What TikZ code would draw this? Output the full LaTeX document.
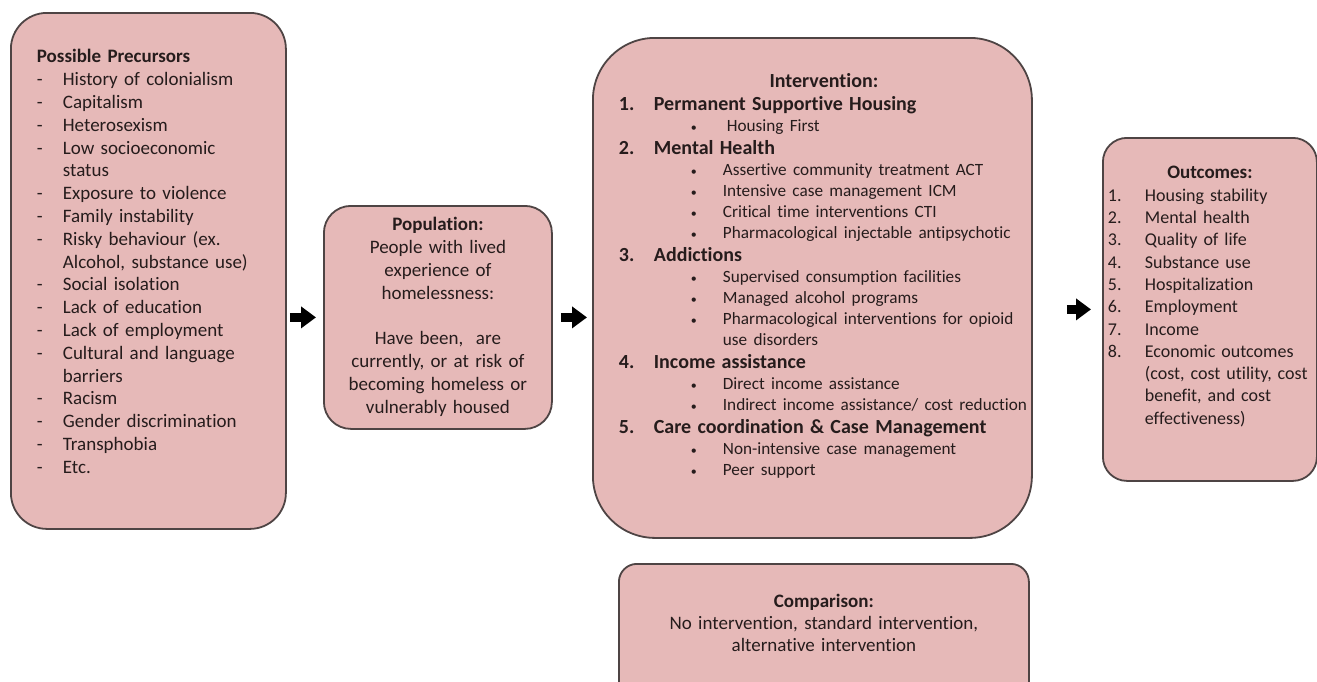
\documentclass[tikz,border=0pt]{standalone}
\usepackage{fontspec}
\setmainfont{Carlito}[Ligatures=NoCommon]
\usetikzlibrary{arrows.meta}

\definecolor{boxfill}{RGB}{230,185,184}
\definecolor{boxline}{RGB}{78,68,68}
\definecolor{ink}{RGB}{38,28,28}

% numbered heading and bullet line inside the intervention box
\newcommand{\ivhead}[2]{{\fontsize{10}{11.5}\selectfont\bfseries\leavevmode\makebox[17.5pt][l]{#1}#2\par}}
\newcommand{\ivsub}[1]{{\fontsize{8.6}{10.5}\selectfont\leavevmode\hspace*{36pt}\makebox[16pt][l]{\raisebox{0.4pt}{\fontsize{6}{6}\selectfont\textbullet}}\mbox{#1}\par}}

\begin{document}
\begin{tikzpicture}[x=0.5pt, y=-0.5pt,
  box/.style={draw=boxline, fill=boxfill, line width=0.9pt, inner ysep=0pt,
              anchor=north west, text=ink, font=\fontsize{9.5}{11.4}\selectfont},
  flow/.style={line width=4.5pt, -{Triangle[length=7.5pt, width=10.5pt]}}]
\useasboundingbox (0,0) rectangle (1317,681);

\node[box, rounded corners=18pt, inner xsep=13pt, text width=111.5pt,
      text height=25pt, text depth=233pt, align=left] (precursors) at (10,12) {%
  \textbf{Possible Precursors}\\
  \makebox[13pt][l]{-}History of colonialism\\
  \makebox[13pt][l]{-}Capitalism\\
  \makebox[13pt][l]{-}Heterosexism\\
  \makebox[13pt][l]{-}Low socioeconomic\\
  \hspace*{13pt}status\\
  \makebox[13pt][l]{-}Exposure to violence\\
  \makebox[13pt][l]{-}Family instability\\
  \makebox[13pt][l]{-}Risky behaviour (ex.\\
  \hspace*{13pt}Alcohol, substance use)\\
  \makebox[13pt][l]{-}Social isolation\\
  \makebox[13pt][l]{-}Lack of education\\
  \makebox[13pt][l]{-}Lack of employment\\
  \makebox[13pt][l]{-}Cultural and language\\
  \hspace*{13pt}barriers\\
  \makebox[13pt][l]{-}Racism\\
  \makebox[13pt][l]{-}Gender discrimination\\
  \makebox[13pt][l]{-}Transphobia\\
  \makebox[13pt][l]{-}Etc.};

\node[box, rounded corners=13.5pt, inner xsep=7pt, text width=100pt,
      text height=12.5pt, text depth=99pt, align=center] (population) at (323,205) {%
  \textbf{Population:}\\
  People with lived\\
  experience of\\
  homelessness:\\[11.4pt]
  Have been,~ are\\
  currently, or at risk of\\
  becoming homeless or\\
  vulnerably housed};

\node[box, rounded corners=31pt, inner xsep=13pt, text width=193.5pt,
      text height=25pt, text depth=225pt, align=left] (intervention) at (592,37) {%
  {\fontsize{10}{11.5}\selectfont\bfseries\centering\hspace*{11.5pt}Intervention:\par}
  \ivhead{1.}{Permanent Supportive Housing}
  \ivsub{\hspace{2pt}Housing First}
  \ivhead{2.}{Mental Health}
  \ivsub{Assertive community treatment ACT}
  \ivsub{Intensive case management ICM}
  \ivsub{Critical time interventions CTI}
  \ivsub{Pharmacological injectable antipsychotic}
  \ivhead{3.}{Addictions}
  \ivsub{Supervised consumption facilities}
  \ivsub{Managed alcohol programs}
  \ivsub{Pharmacological interventions for opioid}
  {\fontsize{8.6}{10.5}\selectfont\leavevmode\hspace*{52pt}use disorders\par}
  \ivhead{4.}{Income assistance}
  \ivsub{Direct income assistance}
  \ivsub{Indirect income assistance/ cost reduction}
  \ivhead{5.}{Care coordination \& Case Management}
  \ivsub{Non-intensive case management}
  \ivsub{Peer support}};

\node[box, rounded corners=12pt, inner xsep=2.5pt, text width=102pt,
      text height=20.5pt, text depth=151pt, align=left,
      font=\fontsize{9}{11.15}\selectfont] (outcomes) at (1102,137) {%
  {\centering\fontsize{9.5}{11.15}\selectfont\textbf{Outcomes:}\par}
  \makebox[18.5pt][l]{1.}Housing stability\\
  \makebox[18.5pt][l]{2.}Mental health\\
  \makebox[18.5pt][l]{3.}Quality of life\\
  \makebox[18.5pt][l]{4.}Substance use\\
  \makebox[18.5pt][l]{5.}Hospitalization\\
  \makebox[18.5pt][l]{6.}Employment\\
  \makebox[18.5pt][l]{7.}Income\\
  \makebox[18.5pt][l]{8.}Economic outcomes\\
  \hspace*{18.5pt}(cost, cost utility, cost\\
  \hspace*{18.5pt}benefit, and cost\\
  \hspace*{18.5pt}effectiveness)};

\node[box, rounded corners=9pt, inner xsep=7.5pt, text width=190pt,
      text height=22pt, text depth=48pt, align=center,
      font=\fontsize{9.5}{11}\selectfont] (comparison) at (618,563) {%
  \textbf{Comparison:}\\
  No intervention, standard intervention,\\
  alternative intervention};

\draw[flow, shorten <=1.5pt, shorten >=3.5pt] (precursors.east |- population.west) -- (population.west);
\draw[flow, shorten <=4pt, shorten >=2.5pt] (population.east) -- (intervention.west |- population.east);
\draw[flow, shorten <=17pt, shorten >=5.5pt] (intervention.east |- outcomes.west) -- (outcomes.west);
\end{tikzpicture}
\end{document}
